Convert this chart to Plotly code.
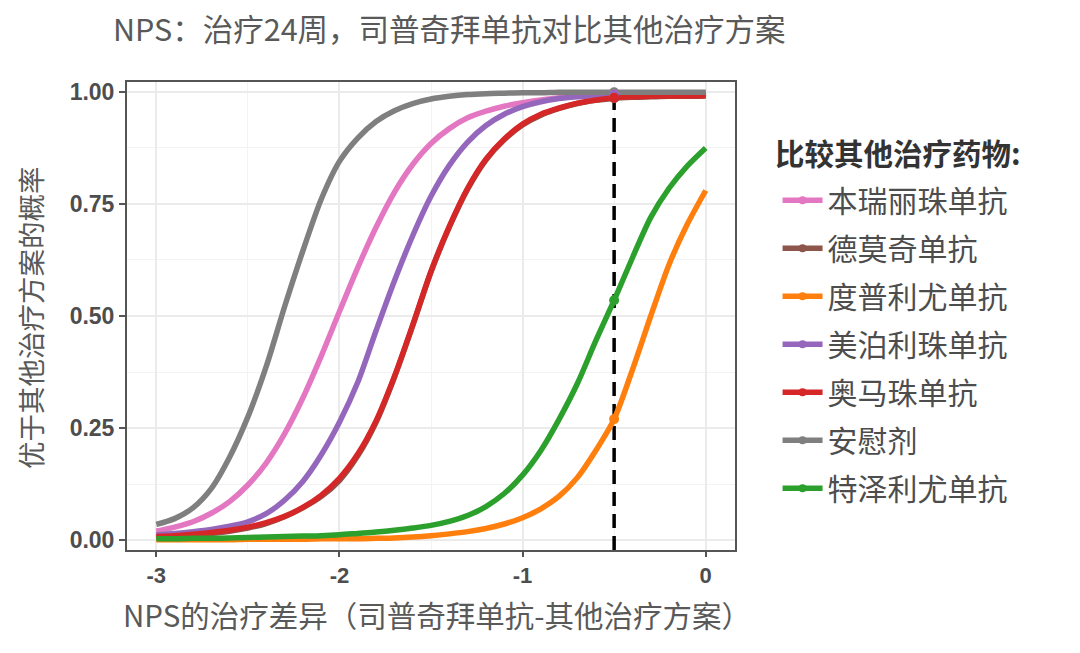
import plotly.graph_objects as go

# ---------------- data ----------------
x_diff = [-3.0, -2.9, -2.8, -2.7, -2.6, -2.5, -2.4, -2.3, -2.2, -2.1, -2.0,
          -1.9, -1.8, -1.7, -1.6, -1.5, -1.4, -1.3, -1.2, -1.1, -1.0,
          -0.9, -0.8, -0.7, -0.6, -0.5, -0.4, -0.3, -0.2, -0.1, 0.0]

series_names = ["本瑞丽珠单抗", "德莫奇单抗", "度普利尤单抗", "美泊利珠单抗",
                "奥马珠单抗", "安慰剂", "特泽利尤单抗"]
series_colors = ["#E377C2", "#8C564B", "#FF7F0E", "#9467BD",
                 "#D62728", "#7F7F7F", "#2CA02C"]

benralizumab = [0.020, 0.029, 0.041, 0.060, 0.086, 0.123, 0.172, 0.237, 0.317, 0.410, 0.510,
                0.608, 0.698, 0.776, 0.838, 0.885, 0.918, 0.942, 0.957, 0.968, 0.976,
                0.982, 0.987, 0.990, 0.992, 0.994, 0.995, 0.996, 0.997, 0.997, 0.998]
demokizumab = [0.007, 0.009, 0.012, 0.015, 0.020, 0.027, 0.037, 0.052, 0.072, 0.097, 0.133,
               0.188, 0.263, 0.363, 0.478, 0.598, 0.698, 0.783, 0.848, 0.893, 0.926,
               0.948, 0.963, 0.974, 0.981, 0.986, 0.988, 0.989, 0.990, 0.990, 0.991]
dupilumab = [0.001, 0.001, 0.001, 0.001, 0.001, 0.002, 0.002, 0.002, 0.002, 0.003, 0.003,
             0.003, 0.004, 0.005, 0.007, 0.010, 0.014, 0.019, 0.026, 0.036, 0.050,
             0.070, 0.098, 0.140, 0.200, 0.270, 0.380, 0.500, 0.615, 0.705, 0.780]
mepolizumab = [0.012, 0.015, 0.019, 0.024, 0.031, 0.041, 0.059, 0.089, 0.131, 0.190, 0.263,
               0.352, 0.467, 0.578, 0.679, 0.767, 0.836, 0.888, 0.925, 0.950, 0.967,
               0.978, 0.985, 0.989, 0.992, 0.994, 0.995, 0.996, 0.996, 0.997, 0.997]
omalizumab = [0.008, 0.010, 0.013, 0.017, 0.022, 0.029, 0.039, 0.053, 0.073, 0.100, 0.138,
              0.192, 0.266, 0.365, 0.480, 0.600, 0.700, 0.785, 0.850, 0.895, 0.928,
              0.950, 0.964, 0.975, 0.982, 0.987, 0.989, 0.990, 0.991, 0.991, 0.992]
placebo = [0.035, 0.048, 0.072, 0.115, 0.185, 0.275, 0.387, 0.520, 0.645, 0.760, 0.845,
           0.897, 0.934, 0.958, 0.974, 0.984, 0.990, 0.994, 0.996, 0.997, 0.998,
           0.998, 0.999, 0.999, 0.999, 0.999, 0.999, 0.999, 0.999, 0.999, 0.999]
tezepelumab = [0.003, 0.003, 0.004, 0.004, 0.005, 0.006, 0.007, 0.008, 0.009, 0.010, 0.012,
               0.015, 0.018, 0.022, 0.027, 0.033, 0.042, 0.055, 0.075, 0.104, 0.145,
               0.200, 0.270, 0.350, 0.445, 0.535, 0.630, 0.720, 0.785, 0.835, 0.875]

series_values = [benralizumab, demokizumab, dupilumab, mepolizumab,
                 omalizumab, placebo, tezepelumab]

# order in which the threshold points are stacked (first = bottom)
marker_order = [5, 0, 1, 2, 3, 4, 6]

threshold_x = -0.5          # reference difference marked by the dashed line
threshold_top = 0.99

x_ticks = [-3, -2, -1, 0]
x_tick_labels = ["-3", "-2", "-1", "0"]
y_ticks = [0.0, 0.25, 0.5, 0.75, 1.0]
y_tick_labels = ["0.00", "0.25", "0.50", "0.75", "1.00"]

title_text = "NPS：治疗24周，司普奇拜单抗对比其他治疗方案"
x_title = "NPS的治疗差异（司普奇拜单抗-其他治疗方案）"
y_title = "优于其他治疗方案的概率"
legend_title = "比较其他治疗药物:"

# ---------------- figure ----------------
CJK = "Noto Sans CJK SC, Noto Sans, sans-serif"
LAT = "Liberation Sans, Arial, Noto Sans CJK SC, sans-serif"

fig = go.Figure()

idx = x_diff.index(threshold_x)

# lines
for name, color, vals in zip(series_names, series_colors, series_values):
    fig.add_trace(go.Scatter(
        x=x_diff, y=vals, mode="lines", name=name, legendgroup=name,
        showlegend=False, line=dict(color=color, width=5.5, shape="spline", smoothing=0.8),
        hoverinfo="skip"))

# markers at the threshold
for k in marker_order:
    name, color, vals = series_names[k], series_colors[k], series_values[k]
    fig.add_trace(go.Scatter(
        x=[x_diff[idx]], y=[vals[idx]], mode="markers", name=name, legendgroup=name,
        showlegend=False, marker=dict(color=color, size=10)))

# legend entries (line + dot)
for name, color in zip(series_names, series_colors):
    fig.add_trace(go.Scatter(
        x=[None], y=[None], mode="lines+markers", name=name, legendgroup=name,
        showlegend=True, line=dict(color=color, width=5.5),
        marker=dict(color=color, size=8)))

fig.add_shape(type="line", xref="x", yref="y",
              x0=threshold_x, x1=threshold_x, y0=-0.022, y1=threshold_top,
              line=dict(color="black", width=3.5, dash="14px,8px"), layer="between")

fig.update_layout(
    width=1080, height=653,
    margin=dict(l=127, r=345, t=82, b=103),
    paper_bgcolor="white", plot_bgcolor="white",
    font=dict(family=CJK, color="#4D4D4D"),
    title=dict(text=title_text, x=113 / 1080, xref="container", xanchor="left",
               y=1 - 30 / 653, yref="container", yanchor="middle",
               font=dict(family=CJK, size=30.5, color="#595959")),
    legend=dict(font=dict(family=CJK, size=30, color="#4D4D4D"),
                x=1.07, xanchor="left", xref="paper",
                y=0.803, yanchor="top", yref="paper",
                itemwidth=40,
                tracegroupgap=6, bgcolor="rgba(0,0,0,0)"),
    showlegend=True,
)

fig.update_xaxes(range=[-3.16, 0.16], tickvals=x_ticks, ticktext=x_tick_labels,
                 showgrid=True, gridcolor="#EBEBEB", gridwidth=2,
                 minor=dict(dtick=0.5, tick0=-3, showgrid=True, gridcolor="#F3F3F3", gridwidth=1.2),
                 zeroline=False, showline=True, mirror=True, linecolor="#555555", linewidth=2,
                 ticks="outside", ticklen=5, tickwidth=2, tickcolor="#555555",
                 tickfont=dict(family=LAT, size=22, color="#4D4D4D", weight="bold"))
fig.update_yaxes(range=[-0.022, 1.022], tickvals=y_ticks, ticktext=y_tick_labels,
                 showgrid=True, gridcolor="#EBEBEB", gridwidth=2,
                 minor=dict(dtick=0.125, tick0=0, showgrid=True, gridcolor="#F3F3F3", gridwidth=1.2),
                 zeroline=False, showline=True, mirror=True, linecolor="#555555", linewidth=2,
                 ticks="outside", ticklen=6, tickwidth=2, tickcolor="#555555",
                 tickfont=dict(family=LAT, size=23, color="#4D4D4D", weight="bold"))

fig.add_annotation(text=legend_title, xref="paper", yref="paper",
                   x=(773 - 127) / 608, y=(550 - 152) / 468, xanchor="left", yanchor="middle",
                   showarrow=False,
                   font=dict(family=CJK, size=29.5, color="#333333", weight="bold"))
fig.add_annotation(text=x_title, xref="paper", yref="paper",
                   x=(437 - 127) / 608, y=(550 - 614) / 468, xanchor="center", yanchor="middle",
                   showarrow=False, font=dict(family=CJK, size=29.5, color="#595959"))
fig.add_annotation(text=y_title, xref="paper", yref="paper",
                   x=(30 - 127) / 608, y=(550 - 318) / 468, xanchor="center", yanchor="middle",
                   textangle=-90, showarrow=False,
                   font=dict(family=CJK, size=27.5, color="#595959"))

fig.write_html("out.html")
